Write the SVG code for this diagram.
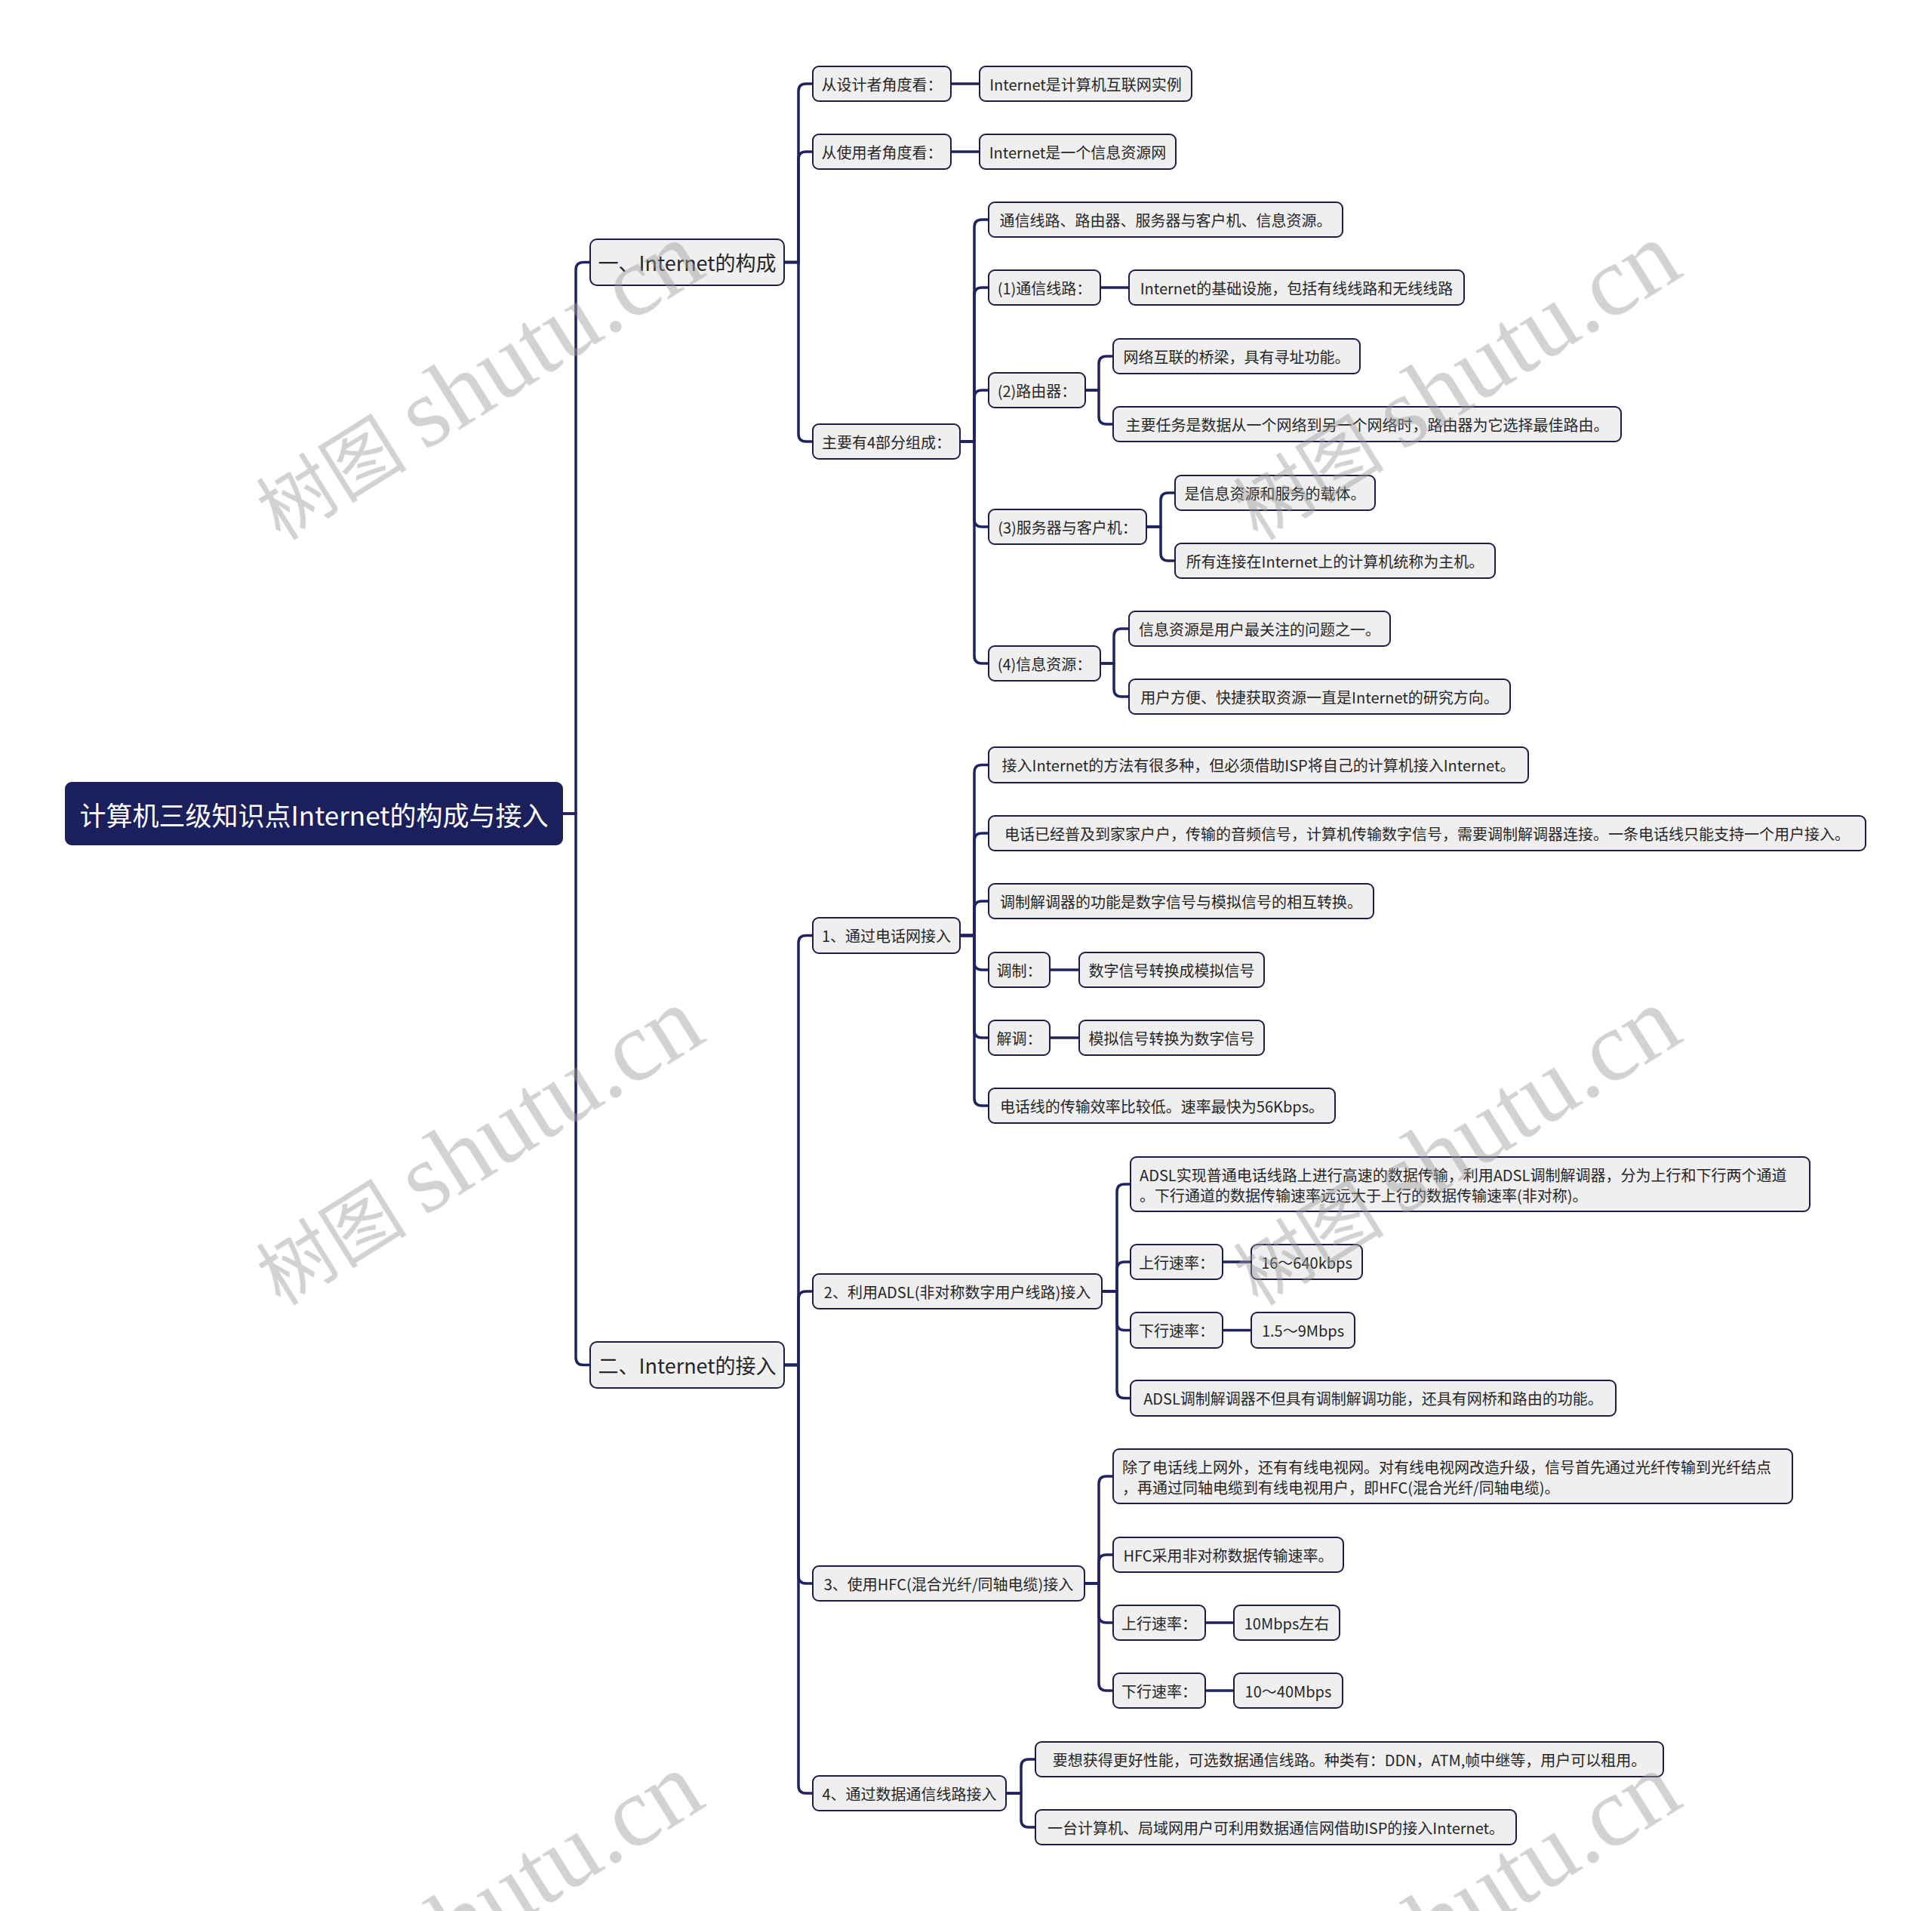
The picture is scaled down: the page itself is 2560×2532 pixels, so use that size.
<svg xmlns="http://www.w3.org/2000/svg" width="2560" height="2532" viewBox="0 0 2560 2532">
<style>
.bg{fill:#ffffff}
.n rect{fill:#efefef;stroke:#1b1e45;stroke-width:2}
.t{font-family:"Noto Sans CJK SC","Noto Sans",sans-serif;font-size:20px;font-weight:400;fill:#262626;text-anchor:middle;dominant-baseline:central}
.tl{font-family:"Noto Sans CJK SC","Noto Sans",sans-serif;font-size:20px;font-weight:400;fill:#262626;text-anchor:start;dominant-baseline:central}
.l1{font-size:27px}
.root rect{fill:#1b1f5c;stroke:#1b1f5c;stroke-width:2}
.root text{font-family:"Noto Sans CJK SC","Noto Sans",sans-serif;font-size:35px;fill:#ffffff;text-anchor:middle;dominant-baseline:central}
.conn path{fill:none;stroke:#1f2360;stroke-width:3.5;stroke-linecap:round;stroke-linejoin:round}
.wm{font-family:"Liberation Serif","Noto Sans CJK SC",serif;fill:#9a9a9a;opacity:0.45;text-anchor:middle}
.wm .c{font-size:100px}
.wm .l{font-size:132px}
</style>
<rect class="bg" x="0" y="0" width="2560" height="2532"/>

<g id="connectors" class="conn">
<path d="M745 1078 H763 V357.5 Q763 347.5 773 347.5 H782"/>
<path d="M745 1078 H763 V1798.5 Q763 1808.5 773 1808.5 H782"/>
<path d="M1039 347.5 H1058 V121 Q1058 111 1068 111 H1077"/>
<path d="M1039 347.5 H1058 V211 Q1058 201 1068 201 H1077"/>
<path d="M1039 347.5 H1058 V575 Q1058 585 1068 585 H1077"/>
<path d="M1260 111 H1298"/>
<path d="M1260 201 H1298"/>
<path d="M1272 585 H1291 V301 Q1291 291 1301 291 H1310"/>
<path d="M1272 585 H1291 V391 Q1291 381 1301 381 H1310"/>
<path d="M1272 585 H1291 V527 Q1291 517 1301 517 H1310"/>
<path d="M1272 585 H1291 V688 Q1291 698 1301 698 H1310"/>
<path d="M1272 585 H1291 V869 Q1291 879 1301 879 H1310"/>
<path d="M1458 381 H1496"/>
<path d="M1438 517 H1456 V482 Q1456 472 1466 472 H1475"/>
<path d="M1438 517 H1456 V552 Q1456 562 1466 562 H1475"/>
<path d="M1519 698 H1538 V663 Q1538 653 1548 653 H1557"/>
<path d="M1519 698 H1538 V733 Q1538 743 1548 743 H1557"/>
<path d="M1458 879 H1476 V843 Q1476 833 1486 833 H1496"/>
<path d="M1458 879 H1476 V913 Q1476 923 1486 923 H1496"/>
<path d="M1039 1808.5 H1058 V1249.5 Q1058 1239.5 1068 1239.5 H1077"/>
<path d="M1039 1808.5 H1058 V1721 Q1058 1711 1068 1711 H1077"/>
<path d="M1039 1808.5 H1058 V2088 Q1058 2098 1068 2098 H1077"/>
<path d="M1039 1808.5 H1058 V2366 Q1058 2376 1068 2376 H1077"/>
<path d="M1272 1239.5 H1291 V1023.5 Q1291 1013.5 1301 1013.5 H1310"/>
<path d="M1272 1239.5 H1291 V1114 Q1291 1104 1301 1104 H1310"/>
<path d="M1272 1239.5 H1291 V1204 Q1291 1194 1301 1194 H1310"/>
<path d="M1272 1239.5 H1291 V1275 Q1291 1285 1301 1285 H1310"/>
<path d="M1272 1239.5 H1291 V1365 Q1291 1375 1301 1375 H1310"/>
<path d="M1272 1239.5 H1291 V1455 Q1291 1465 1301 1465 H1310"/>
<path d="M1391 1285 H1430"/>
<path d="M1391 1375 H1430"/>
<path d="M1460 1711 H1480 V1579 Q1480 1569 1490 1569 H1498"/>
<path d="M1460 1711 H1480 V1682 Q1480 1672 1490 1672 H1498"/>
<path d="M1460 1711 H1480 V1752.5 Q1480 1762.5 1490 1762.5 H1498"/>
<path d="M1460 1711 H1480 V1842.5 Q1480 1852.5 1490 1852.5 H1498"/>
<path d="M1620 1672 H1658"/>
<path d="M1620 1762.5 H1658"/>
<path d="M1437 2098 H1456 V1966 Q1456 1956 1466 1956 H1475"/>
<path d="M1437 2098 H1456 V2070 Q1456 2060 1466 2060 H1475"/>
<path d="M1437 2098 H1456 V2140 Q1456 2150 1466 2150 H1475"/>
<path d="M1437 2098 H1456 V2230 Q1456 2240 1466 2240 H1475"/>
<path d="M1597 2150 H1635"/>
<path d="M1597 2240 H1635"/>
<path d="M1333 2376 H1353 V2341 Q1353 2331 1363 2331 H1372"/>
<path d="M1333 2376 H1353 V2411 Q1353 2421 1363 2421 H1372"/>
</g>

<g id="root" class="root"><rect x="87" y="1037" width="658" height="82" rx="8"/><text x="416" y="1078">计算机三级知识点Internet的构成与接入</text></g>

<g id="n1" class="n"><rect x="782" y="317" width="257" height="61" rx="9"/><text class="t l1" x="910.5" y="347.5">一、Internet的构成</text></g>
<g id="n2" class="n"><rect x="782" y="1778" width="257" height="61" rx="9"/><text class="t l1" x="910.5" y="1808.5">二、Internet的接入</text></g>

<g id="a1" class="n"><rect x="1077" y="88" width="183" height="46" rx="8"/><text class="t" x="1168.5" y="111">从设计者角度看：</text></g>
<g id="a1a" class="n"><rect x="1298" y="88" width="281" height="46" rx="8"/><text class="t" x="1438.5" y="111">Internet是计算机互联网实例</text></g>
<g id="a2" class="n"><rect x="1077" y="178" width="183" height="46" rx="8"/><text class="t" x="1168.5" y="201">从使用者角度看：</text></g>
<g id="a2a" class="n"><rect x="1298" y="178" width="260" height="46" rx="8"/><text class="t" x="1428" y="201">Internet是一个信息资源网</text></g>
<g id="a3" class="n"><rect x="1077" y="562" width="195" height="46" rx="8"/><text class="t" x="1174.5" y="585">主要有4部分组成：</text></g>

<g id="b1" class="n"><rect x="1310" y="268" width="469" height="46" rx="8"/><text class="t" x="1544.5" y="291">通信线路、路由器、服务器与客户机、信息资源。</text></g>
<g id="b2" class="n"><rect x="1310" y="358" width="148" height="46" rx="8"/><text class="t" x="1384" y="381">(1)通信线路：</text></g>
<g id="b2a" class="n"><rect x="1496" y="358" width="444" height="46" rx="8"/><text class="t" x="1718" y="381">Internet的基础设施，包括有线线路和无线线路</text></g>
<g id="b3" class="n"><rect x="1310" y="494" width="128" height="46" rx="8"/><text class="t" x="1374" y="517">(2)路由器：</text></g>
<g id="b3a" class="n"><rect x="1475" y="449" width="327" height="46" rx="8"/><text class="t" x="1638.5" y="472">网络互联的桥梁，具有寻址功能。</text></g>
<g id="b3b" class="n"><rect x="1475" y="539" width="673" height="46" rx="8"/><text class="t" x="1811.5" y="562">主要任务是数据从一个网络到另一个网络时，路由器为它选择最佳路由。</text></g>
<g id="b4" class="n"><rect x="1310" y="675" width="209" height="46" rx="8"/><text class="t" x="1414.5" y="698">(3)服务器与客户机：</text></g>
<g id="b4a" class="n"><rect x="1557" y="630" width="265" height="46" rx="8"/><text class="t" x="1689.5" y="653">是信息资源和服务的载体。</text></g>
<g id="b4b" class="n"><rect x="1557" y="720" width="424" height="46" rx="8"/><text class="t" x="1769" y="743">所有连接在Internet上的计算机统称为主机。</text></g>
<g id="b5" class="n"><rect x="1310" y="856" width="148" height="46" rx="8"/><text class="t" x="1384" y="879">(4)信息资源：</text></g>
<g id="b5a" class="n"><rect x="1496" y="810" width="346" height="46" rx="8"/><text class="t" x="1669" y="833">信息资源是用户最关注的问题之一。</text></g>
<g id="b5b" class="n"><rect x="1496" y="900" width="505" height="46" rx="8"/><text class="t" x="1748.5" y="923">用户方便、快捷获取资源一直是Internet的研究方向。</text></g>

<g id="c1" class="n"><rect x="1077" y="1216" width="195" height="47" rx="8"/><text class="t" x="1174.5" y="1239.5">1、通过电话网接入</text></g>
<g id="c1a" class="n"><rect x="1310" y="990" width="715" height="47" rx="8"/><text class="t" x="1667.5" y="1013.5">接入Internet的方法有很多种，但必须借助ISP将自己的计算机接入Internet。</text></g>
<g id="c1b" class="n"><rect x="1310" y="1081" width="1162" height="46" rx="8"/><text class="t" x="1891" y="1104">电话已经普及到家家户户，传输的音频信号，计算机传输数字信号，需要调制解调器连接。一条电话线只能支持一个用户接入。</text></g>
<g id="c1c" class="n"><rect x="1310" y="1171" width="510" height="46" rx="8"/><text class="t" x="1565" y="1194">调制解调器的功能是数字信号与模拟信号的相互转换。</text></g>
<g id="c1d" class="n"><rect x="1310" y="1262" width="81" height="46" rx="8"/><text class="t" x="1350.5" y="1285">调制：</text></g>
<g id="c1d1" class="n"><rect x="1430" y="1262" width="245" height="46" rx="8"/><text class="t" x="1552.5" y="1285">数字信号转换成模拟信号</text></g>
<g id="c1e" class="n"><rect x="1310" y="1352" width="81" height="46" rx="8"/><text class="t" x="1350.5" y="1375">解调：</text></g>
<g id="c1e1" class="n"><rect x="1430" y="1352" width="245" height="46" rx="8"/><text class="t" x="1552.5" y="1375">模拟信号转换为数字信号</text></g>
<g id="c1f" class="n"><rect x="1310" y="1442" width="459" height="46" rx="8"/><text class="t" x="1539.5" y="1465">电话线的传输效率比较低。速率最快为56Kbps。</text></g>

<g id="c2" class="n"><rect x="1077" y="1688" width="383" height="46" rx="8"/><text class="t" x="1268.5" y="1711">2、利用ADSL(非对称数字用户线路)接入</text></g>
<g id="c2a" class="n"><rect x="1498" y="1533" width="900" height="72" rx="8"/><text class="tl" x="1510" y="1556">ADSL实现普通电话线路上进行高速的数据传输，利用ADSL调制解调器，分为上行和下行两个通道</text><text class="tl" x="1510" y="1583">。下行通道的数据传输速率远远大于上行的数据传输速率(非对称)。</text></g>
<g id="c2b" class="n"><rect x="1498" y="1649" width="122" height="46" rx="8"/><text class="t" x="1559" y="1672">上行速率：</text></g>
<g id="c2b1" class="n"><rect x="1658" y="1649" width="147" height="46" rx="8"/><text class="t" x="1731.5" y="1672">16～640kbps</text></g>
<g id="c2c" class="n"><rect x="1498" y="1739" width="122" height="47" rx="8"/><text class="t" x="1559" y="1762.5">下行速率：</text></g>
<g id="c2c1" class="n"><rect x="1658" y="1739" width="137" height="47" rx="8"/><text class="t" x="1726.5" y="1762.5">1.5～9Mbps</text></g>
<g id="c2d" class="n"><rect x="1498" y="1829" width="643" height="47" rx="8"/><text class="t" x="1819.5" y="1852.5">ADSL调制解调器不但具有调制解调功能，还具有网桥和路由的功能。</text></g>

<g id="c3" class="n"><rect x="1077" y="2075" width="360" height="46" rx="8"/><text class="t" x="1257" y="2098">3、使用HFC(混合光纤/同轴电缆)接入</text></g>
<g id="c3a" class="n"><rect x="1475" y="1920" width="900" height="72" rx="8"/><text class="tl" x="1487" y="1943">除了电话线上网外，还有有线电视网。对有线电视网改造升级，信号首先通过光纤传输到光纤结点</text><text class="tl" x="1487" y="1970">，再通过同轴电缆到有线电视用户，即HFC(混合光纤/同轴电缆)。</text></g>
<g id="c3b" class="n"><rect x="1475" y="2037" width="305" height="46" rx="8"/><text class="t" x="1627.5" y="2060">HFC采用非对称数据传输速率。</text></g>
<g id="c3c" class="n"><rect x="1475" y="2127" width="122" height="46" rx="8"/><text class="t" x="1536" y="2150">上行速率：</text></g>
<g id="c3c1" class="n"><rect x="1635" y="2127" width="140" height="46" rx="8"/><text class="t" x="1705" y="2150">10Mbps左右</text></g>
<g id="c3d" class="n"><rect x="1475" y="2217" width="122" height="46" rx="8"/><text class="t" x="1536" y="2240">下行速率：</text></g>
<g id="c3d1" class="n"><rect x="1635" y="2217" width="144" height="46" rx="8"/><text class="t" x="1707" y="2240">10～40Mbps</text></g>

<g id="c4" class="n"><rect x="1077" y="2353" width="256" height="46" rx="8"/><text class="t" x="1205" y="2376">4、通过数据通信线路接入</text></g>
<g id="c4a" class="n"><rect x="1372" y="2308" width="832" height="46" rx="8"/><text class="t" x="1788" y="2331">要想获得更好性能，可选数据通信线路。种类有：DDN，ATM,帧中继等，用户可以租用。</text></g>
<g id="c4b" class="n"><rect x="1372" y="2398" width="637" height="46" rx="8"/><text class="t" x="1690.5" y="2421">一台计算机、局域网用户可利用数据通信网借助ISP的接入Internet。</text></g>

<g id="watermarks" class="wm">
<text transform="translate(655,540) rotate(-32)"><tspan class="c">树图 </tspan><tspan class="l">shutu.cn</tspan></text>
<text transform="translate(1950,540) rotate(-32)"><tspan class="c">树图 </tspan><tspan class="l">shutu.cn</tspan></text>
<text transform="translate(655,1554) rotate(-32)"><tspan class="c">树图 </tspan><tspan class="l">shutu.cn</tspan></text>
<text transform="translate(1950,1554) rotate(-32)"><tspan class="c">树图 </tspan><tspan class="l">shutu.cn</tspan></text>
<text transform="translate(655,2568) rotate(-32)"><tspan class="c">树图 </tspan><tspan class="l">shutu.cn</tspan></text>
<text transform="translate(1950,2568) rotate(-32)"><tspan class="c">树图 </tspan><tspan class="l">shutu.cn</tspan></text>
</g>
</svg>
